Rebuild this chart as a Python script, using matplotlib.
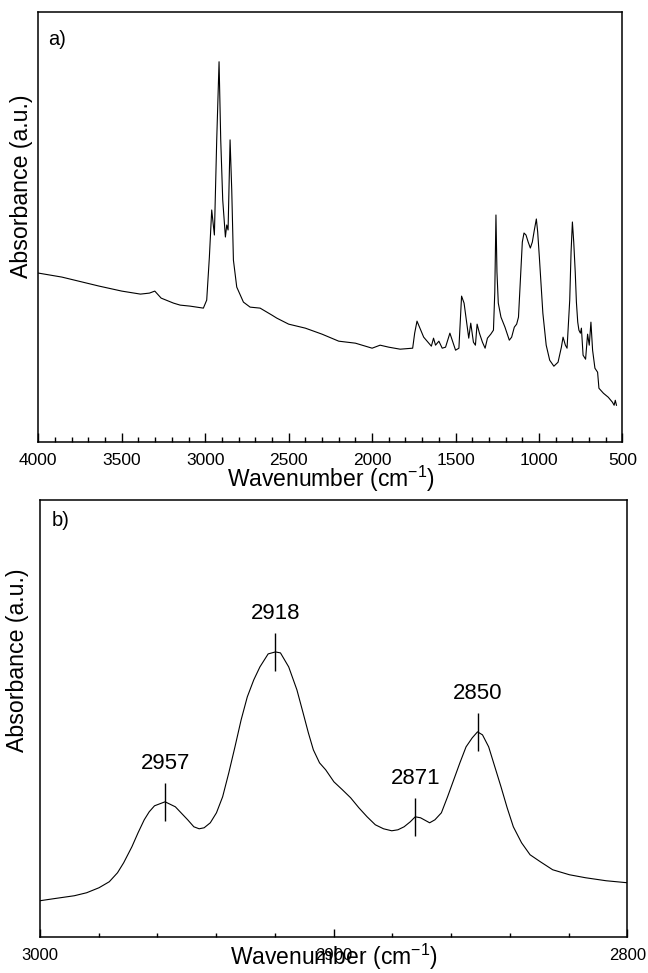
import matplotlib
matplotlib.use("Agg")
import matplotlib.pyplot as plt
from matplotlib.ticker import MultipleLocator
import numpy as np

# FTIR spectrum, full range (panel a), arbitrary absorbance units
full_wn = [4000, 3859, 3636, 3500, 3388, 3334, 3302, 3264, 3190, 3150, 3091, 3011,
           2991, 2975, 2961, 2945, 2931, 2917, 2907, 2895, 2879, 2871, 2863, 2851,
           2841, 2831, 2811, 2771, 2731, 2671, 2600, 2571, 2500, 2400, 2300, 2200,
           2100, 2000, 1952, 1900, 1832, 1757, 1745, 1731, 1711, 1691, 1660, 1645,
           1632, 1620, 1600, 1580, 1560, 1534, 1500, 1480, 1464, 1449, 1433, 1421,
           1409, 1393, 1381, 1371, 1357, 1339, 1323, 1309, 1289, 1273, 1265, 1258,
           1252, 1244, 1228, 1204, 1178, 1164, 1148, 1134, 1123, 1111, 1100, 1090,
           1078, 1065, 1052, 1040, 1028, 1016, 1008, 998, 987, 977, 957, 936,
           911, 886, 866, 856, 842, 832, 823, 816, 808, 800, 792, 783,
           776, 768, 761, 752, 746, 736, 721, 709, 699, 689, 679, 665,
           649, 641, 614, 585, 560, 550, 543, 536]
full_abs = [169, 165, 156, 151, 148, 149, 151, 144, 139, 137, 136, 134,
            142, 185, 232, 207, 302, 380, 302, 242, 205, 217, 212, 302,
            252, 182, 155, 140, 135, 134, 127, 124, 118, 114, 108, 101,
            99, 94, 97, 95, 93, 94, 109, 121, 113, 105, 99, 96,
            104, 97, 101, 94, 95, 109, 92, 94, 146, 139, 119, 104,
            119, 100, 97, 118, 109, 100, 94, 104, 108, 112, 150, 227,
            170, 139, 125, 115, 102, 105, 115, 118, 125, 165, 200, 209,
            207, 200, 194, 200, 212, 223, 210, 185, 155, 129, 97, 82,
            76, 80, 95, 105, 97, 94, 120, 142, 190, 220, 200, 170,
            140, 120, 112, 109, 114, 87, 83, 108, 97, 120, 92, 74,
            70, 54, 49, 45, 40, 37, 42, 37]

# C-H stretching region (panel b)
ch_wn = [3000, 2995.4, 2988.3, 2984.1, 2979.9, 2976.4, 2973.6, 2971.5, 2968.7, 2966.6,
         2964.5, 2962.8, 2961, 2957.4, 2953.9, 2949.7, 2947.6, 2945.8, 2944.1, 2942,
         2939.9, 2937.8, 2935.7, 2933.6, 2931.5, 2929.4, 2927.2, 2925.1, 2922.3, 2919.8,
         2918.1, 2915.3, 2912.5, 2910.4, 2908.6, 2906.9, 2904.8, 2902.7, 2899.9, 2897,
         2894.2, 2891.4, 2888.6, 2885.8, 2883, 2880.2, 2878.1, 2876, 2873.9, 2872.2,
         2870.4, 2867.3, 2865.5, 2863.3, 2861.2, 2859.1, 2857, 2854.9, 2852.8, 2851,
         2849.3, 2847.2, 2845.1, 2843, 2840.9, 2838.8, 2836, 2833.1, 2829.6, 2825.4,
         2819.7, 2814.2, 2807.2, 2800]
ch_abs = [36, 38, 41, 44, 49, 55, 64, 74, 90, 104,
          117, 125, 131, 135, 130, 117, 110, 108, 109, 114,
          124, 140, 164, 190, 217, 240, 257, 270, 283, 285,
          284, 270, 247, 224, 204, 187, 174, 167, 155, 147,
          139, 129, 120, 112, 108, 106, 107, 110, 115, 120,
          119, 114, 117, 124, 140, 157, 174, 190, 199, 205,
          202, 190, 170, 150, 129, 110, 94, 82, 75, 67,
          62, 59, 56, 54]

peak_labels = ["2957", "2918", "2871", "2850"]
peak_wn = [2957.4, 2919.8, 2872.2, 2851]

plt.rcParams['font.family'] = ['Liberation Sans', 'DejaVu Sans']
plt.rcParams['mathtext.fontset'] = 'custom'
plt.rcParams['mathtext.rm'] = 'Liberation Sans'
plt.rcParams['mathtext.default'] = 'regular'

fig = plt.figure(figsize=(6.48, 9.73), dpi=100)
ax1 = fig.add_axes([0.0591, 0.5454, 0.9015, 0.4426])
ax2 = fig.add_axes([0.0617, 0.0373, 0.9063, 0.4488])

xlabel = 'Wavenumber (cm$^{-1}$)'

# panel a
ax1.plot(full_wn, full_abs, color='black', lw=0.8)
ax1.set_xlim(4000, 500)
ax1.set_ylim(0, 430)
ax1.xaxis.set_major_locator(MultipleLocator(500))
ax1.xaxis.set_minor_locator(MultipleLocator(100))
ax1.tick_params(axis='x', which='major', direction='in', length=6.5, width=1,
                labelsize=12.5, pad=7.5)
ax1.tick_params(axis='x', which='minor', direction='in', length=3.4, width=1)
ax1.set_xlabel(xlabel, fontsize=16.5)
ax1.xaxis.set_label_coords(0.5, -0.05)
ax1.set_ylabel('Absorbance (a.u.)', fontsize=16.7)
ax1.yaxis.set_label_coords(-0.009, 0.595)
ax1.text(0.0166, 0.957, 'a)', transform=ax1.transAxes, fontsize=14.5,
         ha='left', va='top')

# panel b
ax2.plot(ch_wn, ch_abs, color='black', lw=0.8)
ax2.set_xlim(3000, 2800)
ax2.set_ylim(0, 437)
ax2.xaxis.set_major_locator(MultipleLocator(100))
ax2.xaxis.set_minor_locator(MultipleLocator(20))
ax2.tick_params(axis='x', which='major', direction='in', length=6, width=1,
                labelsize=12, pad=8)
ax2.tick_params(axis='x', which='minor', direction='in', length=3.1, width=1)
ax2.set_xlabel(xlabel, fontsize=16.5)
ax2.xaxis.set_label_coords(0.5, -0.012)
ax2.set_ylabel('Absorbance (a.u.)', fontsize=16.7)
ax2.yaxis.set_label_coords(-0.0187, 0.634)
ax2.text(0.020, 0.975, 'b)', transform=ax2.transAxes, fontsize=14.5,
         ha='left', va='top')

# peak markers
for lab, w in zip(peak_labels, peak_wn):
    # ch_wn is descending so flip for interp
    h = np.interp(w, ch_wn[::-1], ch_abs[::-1])
    ax2.vlines(w, h - 19, h + 19, color='black', lw=1)
    ax2.text(w, h + 33, lab, fontsize=16, ha='center', va='baseline')

for ax in (ax1, ax2):
    ax.set_yticks([])
    for sp in ax.spines.values():
        sp.set_linewidth(1.1)

fig.savefig('out.png', dpi=100)
